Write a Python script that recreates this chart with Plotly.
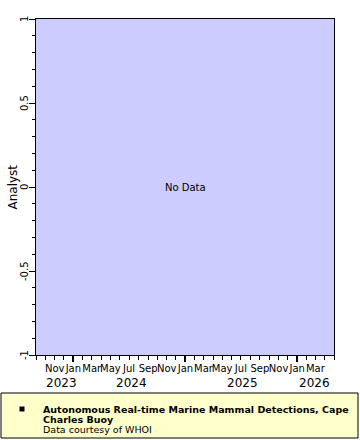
import plotly.graph_objects as go

# ---- data ----
series_name = "Autonomous Real-time Marine Mammal Detections, Cape"
series_name_2 = "Charles Buoy"
credit = "Data courtesy of WHOI"
y_label = "Analyst"
x_range = ["2023-09-01", "2026-05-01"]
y_range = [-1, 1]
y_tickvals = [-1, -0.5, 0, 0.5, 1]
y_ticktext = ["-1", "-0.5", "0", "0.5", "1"]
month_tickvals = ["2023-11-01", "2024-01-01", "2024-03-01", "2024-05-01", "2024-07-01",
                  "2024-09-01", "2024-11-01", "2025-01-01", "2025-03-01", "2025-05-01",
                  "2025-07-01", "2025-09-01", "2025-11-01", "2026-01-01", "2026-03-01"]
month_ticktext = ["Nov", "Jan", "Mar", "May", "Jul", "Sep", "Nov", "Jan", "Mar", "May",
                  "Jul", "Sep", "Nov", "Jan", "Mar"]
year_major_ticks = ["2024-01-01", "2025-01-01", "2026-01-01"]
year_labels = ["2023", "2024", "2025", "2026"]
year_label_dates = ["2023-11-24", "2024-07-08", "2025-07-05", "2026-02-25"]
x_data = []
y_data = []

W, H = 360, 440
L, R, T, B = 36, 334, 19, 355
def px(x):
    return (x - L) / (R - L)
def py(y):
    return (B - y) / (B - T)

FONT = "DejaVu Sans"
fig = go.Figure()
fig.add_trace(go.Scatter(x=x_data, y=y_data, mode="markers", name=series_name,
                         marker=dict(symbol="square", color="black", size=6),
                         showlegend=False))
# empty trace on the overlay axis so its ticks render
fig.add_trace(go.Scatter(x=x_data, y=y_data, xaxis="x2", yaxis="y", showlegend=False))

fig.update_layout(
    width=W, height=H,
    margin=dict(l=L, r=W - R, t=T, b=H - B),
    paper_bgcolor="white",
    plot_bgcolor="#ccccff",
    font=dict(family=FONT, color="black"),
    xaxis=dict(type="date", range=x_range, tickmode="array",
               tickvals=month_tickvals, ticktext=month_ticktext, tickangle=0,
               ticks="", tickfont=dict(size=10, family=FONT), automargin=False,
               showgrid=False, zeroline=False, showline=True, linecolor="black",
               linewidth=1, mirror=True, ticklabelstandoff=4),
    xaxis2=dict(type="date", range=x_range, overlaying="x", anchor="y", side="bottom",
                tickmode="array", tickvals=year_major_ticks, ticks="outside",
                ticklen=6, tickwidth=2, tickcolor="black", showticklabels=False,
                showgrid=False, zeroline=False, showline=False, automargin=False,
                minor=dict(ticks="outside", dtick="M1", tick0="2023-09-01",
                           ticklen=4, tickwidth=1, tickcolor="black", showgrid=False)),
    yaxis=dict(range=y_range, tickmode="array", tickvals=y_tickvals,
               ticks="outside", ticklen=6, tickwidth=1, tickcolor="black",
               showticklabels=False, automargin=False,
               showgrid=False, zeroline=False, showline=True, linecolor="black",
               linewidth=1, mirror=True,
               minor=dict(ticks="outside", dtick=0.1, ticklen=3, tickcolor="black",
                          showgrid=False)),
    showlegend=False,
)

annotations = []
# y tick labels (rotated) placed on the y data scale
for v, t in zip(y_tickvals, y_ticktext):
    annotations.append(dict(text=t, x=px(24), xref="paper", y=v, yref="y",
                            textangle=-90, xanchor="center", yanchor="middle",
                            showarrow=False, font=dict(size=10, family=FONT, color="black")))
annotations.append(dict(text=y_label, x=px(12.5), xref="paper", y=0.5, yref="paper",
                        textangle=-90, xanchor="center", yanchor="middle", showarrow=False,
                        font=dict(size=12, family=FONT, color="black")))
annotations.append(dict(text="No Data", x=0.5, y=0.5, xref="paper", yref="paper",
                        showarrow=False, font=dict(size=10, family=FONT, color="black")))
for lab, d in zip(year_labels, year_label_dates):
    annotations.append(dict(text=lab, x=d, xref="x", y=py(383), yref="paper",
                            xanchor="center", yanchor="middle", showarrow=False,
                            font=dict(size=12, family=FONT, color="black")))
legend_lines = [("<b>" + series_name + "</b>", 409),
                ("<b>" + series_name_2 + "</b>", 419),
                (credit, 429)]
for txt, yy in legend_lines:
    annotations.append(dict(text=txt, x=px(41), xref="paper", y=py(yy), yref="paper",
                            xanchor="left", yanchor="middle", showarrow=False,
                            font=dict(size=9.5, family=FONT, color="black")))
fig.update_layout(annotations=annotations)

fig.update_layout(shapes=[
    dict(type="rect", xref="paper", yref="paper", x0=px(1), x1=px(358), y0=py(438), y1=py(393),
         fillcolor="#ffffcc", line=dict(color="black", width=1), layer="below"),
    dict(type="rect", xref="paper", yref="paper", x0=px(19.5), x1=px(24.5), y0=py(411.5), y1=py(406.5),
         fillcolor="black", line=dict(color="black", width=0)),
])

fig.write_html("out.html")
